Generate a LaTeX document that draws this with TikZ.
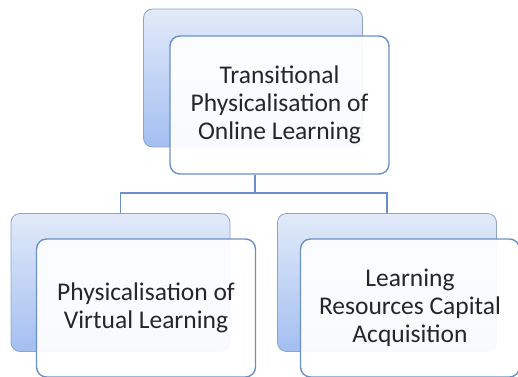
\documentclass[tikz,border=0pt]{standalone}
\usepackage{fontspec}
\setmainfont{Carlito}
\usetikzlibrary{positioning}
\definecolor{boxline}{HTML}{6A90C6}
\definecolor{backline}{HTML}{8FA3C2}
\definecolor{backtop}{HTML}{E2EAF9}
\definecolor{backbot}{HTML}{A3BFF1}
\definecolor{txt}{HTML}{262626}
\begin{document}
\begin{tikzpicture}[x=1pt,y=-1pt,every node/.style={font=\fontsize{25.5}{28}\selectfont,text=txt},
  backbox/.style={draw=backline,line width=.8pt,rounded corners=9pt,top color=backtop,bottom color=backbot,minimum width=219pt,minimum height=138pt,inner sep=0pt},
  frontbox/.style={draw=boxline,line width=1.4pt,rounded corners=10pt,fill=white,fill opacity=.93,text opacity=1,minimum width=219pt,minimum height=138pt,inner sep=0pt,align=center},
  conn/.style={draw=boxline,line width=1.4pt}]
\useasboundingbox (0,0) rectangle (518,376);
% top
\node[backbox] (tback) at (253,78){};
\node[frontbox] (top) at (279.5,105){Transitional\\Physicalisation of\\Online Learning};
% bottom row
\node[backbox] (lback) at (120.5,282.5){};
\node[frontbox] (left) at (146,308){Physicalisation of\\Virtual Learning};
\node[backbox] (rback) at (387,282.5){};
\node[frontbox] (right) at (410,308){Learning\\Resources Capital\\Acquisition};
% connectors
\coordinate (bar) at (255,193);
\draw[conn] ([xshift=-24.5pt]top.south)--(bar);
\draw[conn] (lback.north) |- (bar) -| (rback.north);
\end{tikzpicture}
\end{document}
